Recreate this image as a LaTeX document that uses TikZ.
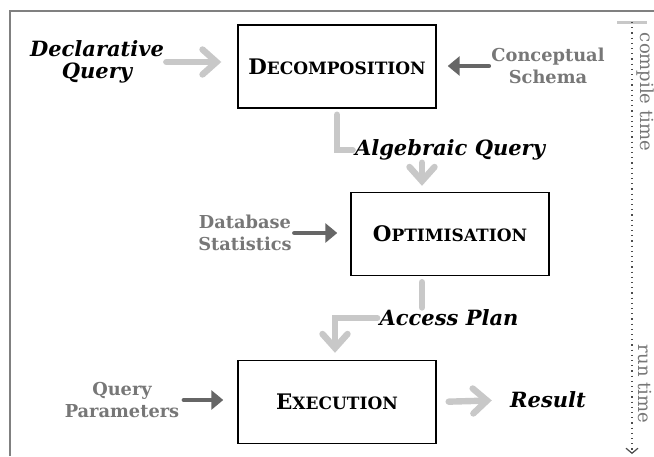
\documentclass[tikz,border=0pt]{standalone}
\usepackage{fontspec}
\setmainfont{DejaVu Serif}
\usetikzlibrary{arrows.meta}

\definecolor{flowgray}{HTML}{C8C8C8}
\definecolor{inputgray}{HTML}{666666}
\definecolor{labelgray}{HTML}{777777}
\definecolor{framegray}{HTML}{808080}

% bold small capitals, built by hand
\newcommand{\stagename}[2]{#1{\fontsize{8.5}{10}\selectfont #2}}

\begin{document}
\begin{tikzpicture}[
    x=0.5pt, y=-0.5pt,
    stage/.style={draw, line width=0.7pt, minimum width=99pt, minimum height=41.5pt, inner sep=0pt, font=\fontsize{10.7}{12}\selectfont\bfseries},
    query/.style={align=center, inner sep=1pt, font=\fontsize{10.5}{11}\selectfont\bfseries\itshape},
    source/.style={align=center, inner sep=1pt, text=labelgray, font=\fontsize{8.9}{11}\selectfont\bfseries},
    phase/.style={rotate=-90, inner sep=0pt, text=labelgray, font=\fontsize{9}{12}\selectfont},
    flow/.style={-{Straight Barb[length=7pt, width=12.5pt, line cap=round]}, line width=3.2pt, flowgray, line cap=round},
    feed/.style={-{Triangle[length=6pt, width=9.5pt]}, line width=2pt, inputgray, line cap=round}
]
    \useasboundingbox (0,0) rectangle (654,456);

    % Frame
    \draw[framegray, line width=1pt] (10,456) -- (10,11) -- (654,11);

    % Stages
    \node[stage] (decomp) at (337,66.5) {\stagename{D}{ECOMPOSITION}};
    \node[stage] (optim) at (450,234) {\stagename{O}{PTIMISATION}};
    \node[stage] (exec) at (337,402) {\stagename{E}{XECUTION}};

    % Inputs and outputs
    \node[query] (declq) at (97,62) {Declarative\\Query};
    \node[source] (schema) at (548,66) {Conceptual\\Schema};
    \node[source] (stats) at (245,233) {Database\\Statistics};
    \node[source] (params) at (122,400) {Query\\Parameters};
    \node[query] (result) at (548,400) {Result};

    % Intermediate results
    \node[query, fill=white] (algq) at (450,150) {Algebraic Query};
    \node[query, fill=white] (plan) at (449,318) {Access Plan};

    % Main flow
    \draw[flow, shorten >=8pt] (declq.east) -- (declq.east -| decomp.west);
    \draw[flow, -, shorten <=3pt] (decomp.south) |- (algq.west);
    \draw[flow, shorten >=3pt] ([xshift=-14pt]algq.south) -- ([xshift=-14pt]optim.north);
    \draw[flow, -, shorten <=3pt] ([xshift=-14pt]optim.south) -- ([xshift=-14pt]optim.south |- plan.north);
    \draw[flow, shorten >=3.5pt] (plan.west) -| ([xshift=-1pt]exec.north);
    \draw[flow, shorten <=6pt, shorten >=8pt] (exec.east) -- (result.west);

    % Side inputs
    \draw[feed, shorten >=5.5pt] (schema.west) -- (schema.west -| decomp.east);
    \draw[feed, shorten >=6.5pt] (stats.east) -- (stats.east -| optim.west);
    \draw[feed, shorten <=1pt, shorten >=7pt] (params.east) -- (params.east -| exec.west);

    % Compile time / run time
    \coordinate (tstart) at (632,22);
    \coordinate (tend) at (632,454);
    \draw[flowgray, line width=1.5pt] (617,22) -- (647,22);
    \draw[dotted, line width=0.6pt, black!70, -{Straight Barb[length=2.5pt, width=6pt]}] (tstart) -- (tend);
    \node[phase] (compile) at (645,92) {compile time};
    \node[phase] (run) at (645,384) {run time};
\end{tikzpicture}
\end{document}
